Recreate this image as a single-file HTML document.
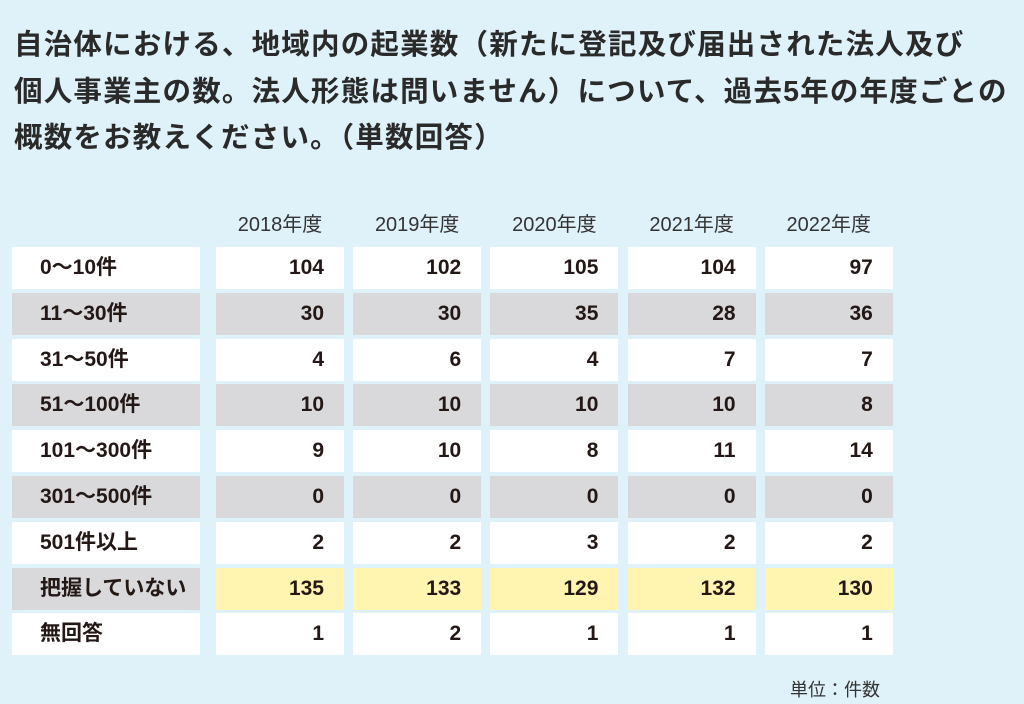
<!DOCTYPE html>
<html><head><meta charset="utf-8">
<style>
body{margin:0;width:1024px;height:704px;background:#dff1f9;overflow:hidden;font-family:"Liberation Sans","Noto Sans CJK JP",sans-serif;color:#231815;position:relative}
.title{position:absolute;left:14px;top:22px;font-size:28.5px;font-weight:bold;line-height:46.5px;letter-spacing:1.2px;white-space:nowrap;color:#2a2a2a}
.hdr{position:absolute;top:208px;width:128px;text-align:center;font-size:20px;color:#333}
.cell{position:absolute;height:42px;line-height:42px;font-size:21px;font-weight:bold;box-sizing:border-box}
.lab{padding-left:28px}
.val{text-align:right;padding-right:20px}
.w{background:#fff}.g{background:#d9d9db}.y{background:#fff5b0}
.unit{position:absolute;left:790px;top:676px;font-size:18px;color:#333}
</style></head><body>
<div class="title">自治体における、地域内の起業数（新たに登記及び届出された法人及び<br>個人事業主の数。法人形態は問いません）について、過去5年の年度ごとの<br>概数をお教えください。（単数回答）</div>
<div id="tbl"></div>
<div class="unit">単位：件数</div>
<script>
const years=["2018年度","2019年度","2020年度","2021年度","2022年度"];
const categories=["0～10件","11～30件","31～50件","51～100件","101～300件","301～500件","501件以上","把握していない","無回答"];
const v2018=[104,30,4,10,9,0,2,135,1];
const v2019=[102,30,6,10,10,0,2,133,2];
const v2020=[105,35,4,10,8,0,3,129,1];
const v2021=[104,28,7,10,11,0,2,132,1];
const v2022=[97,36,7,8,14,0,2,130,1];
const series=[v2018,v2019,v2020,v2021,v2022];
const rowStyle=["w","g","w","g","w","g","w","y","w"];
const t=document.getElementById('tbl');
const colX=i=>216+i*137.2, rowY=r=>247+r*45.8;
years.forEach((y,i)=>{
  const d=document.createElement('div');d.className='hdr';
  d.style.left=colX(i)+'px';d.textContent=y;
  
  
  t.appendChild(d);
});
categories.forEach((c,r)=>{
  const l=document.createElement('div');
  l.className='cell lab '+(rowStyle[r]==='y'?'g':rowStyle[r]);
  l.style.left='12px';l.style.width='188px';l.style.top=rowY(r)+'px';l.textContent=c;
  
  
  t.appendChild(l);
  series.forEach((s,i)=>{
    const d=document.createElement('div');
    d.className='cell val '+rowStyle[r];
    d.style.left=colX(i)+'px';d.style.width='128px';d.style.top=rowY(r)+'px';d.textContent=s[r];
    
    
    t.appendChild(d);
  });
});
</script>
</body></html>
